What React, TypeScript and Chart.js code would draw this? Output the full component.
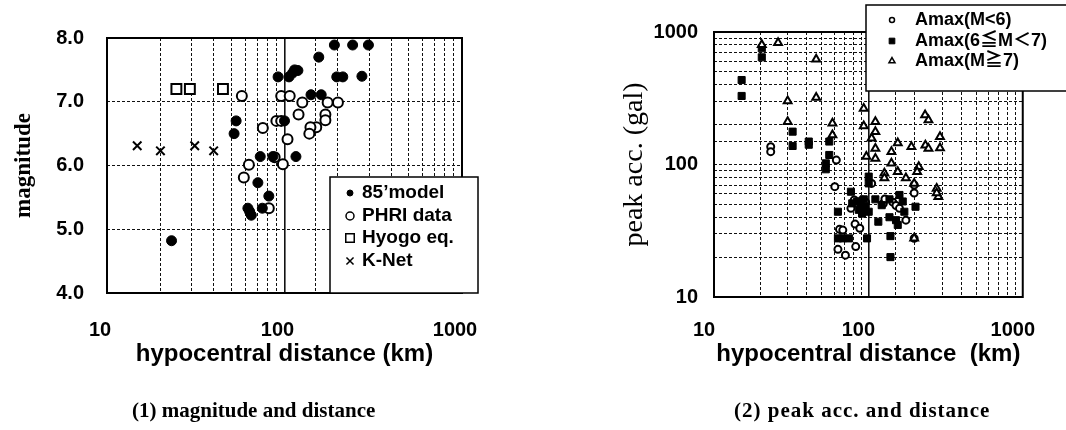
import React, { useEffect, useRef } from "react";
import { Chart, registerables } from "chart.js";
import { drawPoint } from "chart.js/helpers";

Chart.register(...registerables);

// ---------- Chart (1): magnitude vs hypocentral distance ----------
const model85Dist = [191, 242, 297, 156, 92, 106, 111, 119, 114, 197, 213, 273, 141, 161, 53.4, 52, 100, 73, 86, 116, 70.8, 81.6, 62.2, 63.6, 65, 75, 23.1];
const model85Mag = [7.89, 7.89, 7.89, 7.7, 7.39, 7.39, 7.45, 7.49, 7.5, 7.39, 7.39, 7.4, 7.11, 7.11, 6.7, 6.5, 6.7, 6.14, 6.14, 6.14, 5.73, 5.52, 5.33, 5.28, 5.22, 5.33, 4.82];

const phriDist = [57.5, 95.8, 107, 126, 175, 200, 120, 170, 170, 90, 95.8, 75.5, 151, 140, 138, 104, 63, 88, 97.9, 59, 81.6];
const phriMag = [7.09, 7.09, 7.09, 6.99, 6.99, 6.99, 6.8, 6.8, 6.71, 6.7, 6.7, 6.59, 6.6, 6.6, 6.5, 6.41, 6.01, 6.13, 6.02, 5.81, 5.33];

const hyogoDist = [24.6, 29.3, 45];
const hyogoMag = [7.2, 7.2, 7.2];

const knetDist = [14.8, 20, 31.2, 39.9];
const knetMag = [6.31, 6.23, 6.31, 6.23];

const magTicks = [4, 5, 6, 7, 8];

// ---------- Chart (2): peak acceleration vs hypocentral distance ----------
const smallDist = [23.3, 23.3, 62, 60.6, 77.1, 81, 65, 68.3, 63.5, 71, 82.8, 82, 88, 91, 96, 125, 128, 175, 198, 198, 105, 144, 151, 159, 198];
const smallAcc = [136, 125, 108, 68, 46.7, 54, 32.4, 32, 22.9, 20.7, 24, 35.5, 33, 54, 52, 50.8, 55, 38, 61, 70, 72, 52, 49, 46.7, 27.7];

const midDist = [15.1, 15.1, 20.4, 20.4, 32.3, 32.3, 41.1, 41.1, 55.8, 55.8, 53, 53, 63.5, 63.5, 68.3, 75, 98, 116, 137, 151, 155, 139, 139, 202, 100.5, 100.5, 77.1, 78.6, 84.6, 89, 86.6, 93.4, 95.8, 100.5, 91, 111, 122, 137, 159, 167, 171];
const midAcc = [434, 329, 753, 644, 177, 138, 149, 141, 149, 118, 102, 92, 44, 27.7, 27.7, 27.7, 27.7, 37, 40, 38, 35, 28.8, 20, 48, 81, 72, 62.3, 50.9, 52.6, 49.3, 45.5, 54.6, 48.3, 44, 42.6, 54.6, 49.3, 54.6, 58.9, 52.6, 44];

const largeDist = [20.4, 26, 45.9, 30, 45.9, 30, 58.5, 58.5, 93.3, 93.3, 111, 111, 111, 111, 105, 97, 155, 141, 141, 155, 127, 127, 190, 234, 245, 233, 245, 291, 291, 212, 207, 175, 198, 277, 284, 277, 198];
const largeAcc = [800, 830, 622, 301, 321, 210, 205, 167, 265, 195, 210, 177, 132, 111, 158, 115, 145, 125, 102, 88, 86, 79, 136, 140, 132, 236, 217, 162, 133, 96, 88, 79, 72, 66, 57, 61, 27.7];

// ---------- Text ----------
const leftXTitle = "hypocentral distance (km)";
const leftYTitle = "magnitude";
const rightXTitle = "hypocentral distance  (km)";
const rightYTitle = "peak acc. (gal)";
const leftCaption = "(1) magnitude and distance";
const rightCaption = "(2) peak acc. and distance";
const leftLegendLabels = ["85\u2019model", "PHRI data", "Hyogo eq.", "K-Net"];
const rightLegendLabels = ["Amax(M<6)", "Amax(6\u2266M\uFF1C7)", "Amax(M\u22677)"];

const SANS = "'Liberation Sans', Arial, 'Noto Sans CJK JP', sans-serif";
const SERIF = "'Liberation Serif', 'Times New Roman', serif";

const zip = (xs: number[], ys: number[]) => xs.map((x, i) => ({ x, y: ys[i] }));
const isDecade = (v: number) => {
  const l = Math.log10(v);
  return Math.abs(l - Math.round(l)) < 1e-6;
};

const framePlugin = {
  id: "frame",
  beforeDatasetsDraw(chart: any) {
    const { ctx, chartArea: a } = chart;
    ctx.save();
    ctx.strokeStyle = "#000";
    ctx.lineWidth = 2;
    ctx.strokeRect(a.left, a.top, a.right - a.left, a.bottom - a.top);
    ctx.restore();
  },
};

type LegendItem = { label: string; style: string; r: number; bg: string; lw: number; y: number };
const makeLegend = (cfg: { box: { x: number; y: number; w: number; h: number }; markerX: number; textX: number; font: string; items: LegendItem[] }) => ({
  id: "boxLegend",
  afterDraw(chart: any) {
    const { ctx } = chart;
    const b = cfg.box;
    ctx.save();
    ctx.fillStyle = "#fff";
    ctx.fillRect(b.x, b.y, b.w, b.h);
    ctx.strokeStyle = "#000";
    ctx.lineWidth = 1.5;
    ctx.strokeRect(b.x, b.y, b.w, b.h);
    ctx.font = cfg.font;
    ctx.textBaseline = "middle";
    ctx.textAlign = "left";
    cfg.items.forEach((it) => {
      ctx.fillStyle = it.bg;
      ctx.strokeStyle = "#000";
      ctx.lineWidth = it.lw;
      drawPoint(ctx, { pointStyle: it.style, radius: it.r, borderWidth: it.lw, rotation: 0 } as any, cfg.markerX, it.y);
      ctx.fillStyle = "#000";
      ctx.fillText(it.label, cfg.textX, it.y);
    });
    ctx.restore();
  },
});

const gridFor = (solidAt: number | null) => ({
  color: "#111",
  lineWidth: (c: any) => (solidAt !== null && c.tick && c.tick.value === solidAt ? 1.6 : 1),
  drawTicks: false,
});
const borderFor = (solidAt: number | null) => ({
  display: false,
  dash: (c: any) => (solidAt !== null && c.tick && c.tick.value === solidAt ? [] : [3, 2]),
});

const tickFont = { family: SANS, size: 20, weight: "bold" as const };

function LeftChart() {
  const ref = useRef<HTMLCanvasElement>(null);
  useEffect(() => {
    const chart = new Chart(ref.current!, {
      type: "scatter",
      data: {
        datasets: [
          { label: leftLegendLabels[0], data: zip(model85Dist, model85Mag), pointStyle: "circle", radius: 5, backgroundColor: "#000", borderColor: "#000", borderWidth: 1 },
          { label: leftLegendLabels[1], data: zip(phriDist, phriMag), pointStyle: "circle", radius: 5, backgroundColor: "#fff", borderColor: "#000", borderWidth: 2 },
          { label: leftLegendLabels[2], data: zip(hyogoDist, hyogoMag), pointStyle: "rect", radius: 7, backgroundColor: "#fff", borderColor: "#000", borderWidth: 2 },
          { label: leftLegendLabels[3], data: zip(knetDist, knetMag), pointStyle: "crossRot", radius: 6, backgroundColor: "#000", borderColor: "#000", borderWidth: 2 },
        ],
      },
      options: {
        responsive: false,
        animation: false,
        devicePixelRatio: 1,
        layout: { padding: { left: 10, top: 38, right: 71, bottom: 0 } },
        plugins: { legend: { display: false }, tooltip: { enabled: false } },
        scales: {
          x: {
            type: "logarithmic",
            min: 10,
            max: 1000,
            grid: gridFor(100),
            border: borderFor(100),
            ticks: {
              autoSkip: false,
              maxRotation: 0,
              padding: 25,
              labelOffset: -7,
              color: "#000",
              font: tickFont,
              callback: (v: any) => (isDecade(Number(v)) ? String(v) : ""),
            },
            title: { display: true, text: leftXTitle, color: "#000", font: { family: SANS, size: 24, weight: "bold" }, padding: { top: 0, bottom: 61 } },
            afterFit: (s: any) => {
              s.height = 137;
            },
          },
          y: {
            type: "linear",
            min: magTicks[0],
            max: magTicks[magTicks.length - 1],
            grid: gridFor(null),
            border: borderFor(null),
            afterBuildTicks: (s: any) => {
              s.ticks = magTicks.map((v) => ({ value: v }));
            },
            ticks: {
              padding: 23,
              color: "#000",
              font: tickFont,
              callback: (v: any) => Number(v).toFixed(1),
            },
            title: { display: true, text: leftYTitle, color: "#000", font: { family: SERIF, size: 23, weight: "bold" }, padding: 0 },
            afterFit: (s: any) => {
              s.width = 97;
            },
          },
        },
      },
      plugins: [
        framePlugin,
        makeLegend({
          box: { x: 330, y: 177, w: 148, h: 116 },
          markerX: 350,
          textX: 362,
          font: `bold 19px ${SANS}`,
          items: [
            { label: leftLegendLabels[0], style: "circle", r: 3, bg: "#000", lw: 1, y: 193 },
            { label: leftLegendLabels[1], style: "circle", r: 4, bg: "#fff", lw: 1.5, y: 216 },
            { label: leftLegendLabels[2], style: "rect", r: 6, bg: "#fff", lw: 1.5, y: 238 },
            { label: leftLegendLabels[3], style: "crossRot", r: 5, bg: "#000", lw: 1.5, y: 261 },
          ],
        }),
      ],
    } as any);
    return () => chart.destroy();
  }, []);
  return <canvas ref={ref} width={533} height={430} style={{ position: "absolute", left: 0, top: 0, width: 533, height: 430 }} />;
}

function RightChart() {
  const ref = useRef<HTMLCanvasElement>(null);
  useEffect(() => {
    const chart = new Chart(ref.current!, {
      type: "scatter",
      data: {
        datasets: [
          { label: rightLegendLabels[2], data: zip(largeDist, largeAcc), pointStyle: "triangle", radius: 4.5, backgroundColor: "#fff", borderColor: "#000", borderWidth: 2 },
          { label: rightLegendLabels[1], data: zip(midDist, midAcc), pointStyle: "rect", radius: 5, backgroundColor: "#000", borderColor: "#000", borderWidth: 1 },
          { label: rightLegendLabels[0], data: zip(smallDist, smallAcc), pointStyle: "circle", radius: 3.5, backgroundColor: "#fff", borderColor: "#000", borderWidth: 2 },
        ],
      },
      options: {
        responsive: false,
        animation: false,
        devicePixelRatio: 1,
        layout: { padding: { left: 85, top: 32, right: 34, bottom: 0 } },
        plugins: { legend: { display: false }, tooltip: { enabled: false } },
        scales: {
          x: {
            type: "logarithmic",
            min: 10,
            max: 1000,
            grid: gridFor(100),
            border: borderFor(100),
            ticks: {
              autoSkip: false,
              maxRotation: 0,
              padding: 21,
              labelOffset: -10,
              color: "#000",
              font: tickFont,
              callback: (v: any) => (isDecade(Number(v)) ? String(v) : ""),
            },
            title: { display: true, text: rightXTitle, color: "#000", font: { family: SANS, size: 24, weight: "bold" }, padding: { top: 0, bottom: 61 } },
            afterFit: (s: any) => {
              s.height = 133;
            },
          },
          y: {
            type: "logarithmic",
            min: 10,
            max: 1000,
            grid: gridFor(null),
            border: borderFor(null),
            ticks: {
              autoSkip: false,
              padding: 16,
              color: "#000",
              font: tickFont,
              callback: (v: any) => (isDecade(Number(v)) ? String(v) : ""),
            },
            title: { display: true, text: rightYTitle, color: "#000", font: { family: SERIF, size: 28, weight: "normal" }, padding: 0 },
            afterFit: (s: any) => {
              s.width = 96;
            },
          },
        },
      },
      plugins: [
        framePlugin,
        makeLegend({
          box: { x: 333, y: 5, w: 210, h: 86 },
          markerX: 359,
          textX: 382,
          font: `bold 18px ${SANS}`,
          items: [
            { label: rightLegendLabels[0], style: "circle", r: 2.5, bg: "#fff", lw: 1.5, y: 20 },
            { label: rightLegendLabels[1], style: "rect", r: 4, bg: "#000", lw: 1, y: 41 },
            { label: rightLegendLabels[2], style: "triangle", r: 3.5, bg: "#fff", lw: 1.5, y: 61 },
          ],
        }),
      ],
    } as any);
    return () => chart.destroy();
  }, []);
  return <canvas ref={ref} width={533} height={430} style={{ position: "absolute", left: 533, top: 0, width: 533, height: 430 }} />;
}

const captionStyle: React.CSSProperties = {
  position: "absolute",
  top: 397,
  fontFamily: SERIF,
  fontWeight: "bold",
  fontSize: 21,
  lineHeight: "26px",
  whiteSpace: "nowrap",
  color: "#000",
};

export default function App() {
  return (
    <div style={{ position: "fixed", left: 0, top: 0, width: 1066, height: 430, background: "#fff", overflow: "hidden" }}>
      <LeftChart />
      <RightChart />
      <div style={{ ...captionStyle, left: 132 }}>{leftCaption}</div>
      <div style={{ ...captionStyle, left: 734, letterSpacing: "1px" }}>{rightCaption}</div>
    </div>
  );
}
